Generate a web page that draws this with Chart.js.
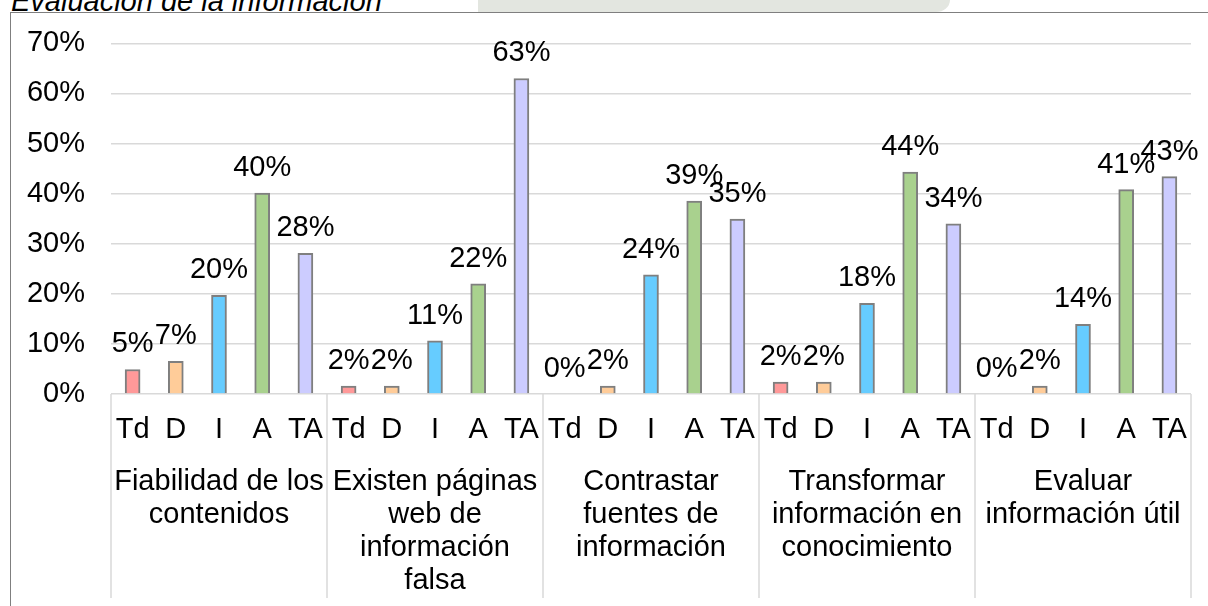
<!DOCTYPE html>
<html><head><meta charset="utf-8">
<script src="https://cdn.jsdelivr.net/npm/chart.js@4.4.0/dist/chart.umd.min.js"></script>
<style>
html,body{margin:0;padding:0;background:#fff;overflow:hidden;width:1208px;height:606px;}
#title{position:absolute;left:11px;top:-13px;font:italic 29px "Liberation Sans",Arial,sans-serif;line-height:29px;color:#000;white-space:nowrap;}
#wm{position:absolute;left:478px;top:0;width:472px;height:12px;background:#e3e6e0;border-bottom-right-radius:14px 12px;}
#frame{position:absolute;left:10px;top:12px;width:1400px;height:800px;border-left:1px solid #7f7f7f;border-top:1px solid #7f7f7f;}
#wrap{position:absolute;left:0;top:0;width:1208px;height:606px;}
</style></head><body>
<div id="wm"></div>
<div id="frame"></div>
<div id="title">Evaluación de la información</div>
<div id="wrap"><canvas id="c"></canvas></div>
<script>
const levels = ['Td', 'D', 'I', 'A', 'TA'];
const groupNames = [
  ['Fiabilidad de los', 'contenidos'],
  ['Existen páginas', 'web de', 'información', 'falsa'],
  ['Contrastar', 'fuentes de', 'información'],
  ['Transformar', 'información en', 'conocimiento'],
  ['Evaluar', 'información útil']
];
const fiabilidad   = [4.9, 6.5, 19.7, 40.1, 28.1];
const paginasFalsa = [1.6, 1.6, 10.6, 22.0, 63.0];
const contrastar   = [0.0, 1.6, 23.8, 38.5, 34.9];
const transformar  = [2.4, 2.4, 18.1, 44.3, 34.0];
const evaluar      = [0.0, 1.6, 13.9, 40.8, 43.4];
const yTicks = [0, 10, 20, 30, 40, 50, 60, 70];

const levelColors = ['#ff9999', '#ffcc99', '#66ccff', '#a9d18e', '#ccccff'];
const seriesList = [fiabilidad, paginasFalsa, contrastar, transformar, evaluar];
const labels = [], values = [], colors = [];
seriesList.forEach(s => s.forEach((v, i) => { labels.push(levels[i]); values.push(v); colors.push(levelColors[i]); }));

const FONT = '"Liberation Sans", Arial, sans-serif';

const valueLabels = {
  id: 'valueLabels',
  afterDatasetsDraw(chart) {
    const ctx = chart.ctx;
    const meta = chart.getDatasetMeta(0);
    ctx.save();
    ctx.font = '29px ' + FONT;
    ctx.fillStyle = '#000';
    ctx.textAlign = 'center';
    ctx.textBaseline = 'alphabetic';
    meta.data.forEach((bar, i) => {
      const v = chart.data.datasets[0].data[i];
      ctx.fillText(Math.round(v) + '%', bar.x, bar.y - 17);
    });
    ctx.restore();
  }
};

const separators = {
  id: 'separators',
  afterDraw(chart) {
    const x = chart.scales.x, x2 = chart.scales.x2;
    const ctx = chart.ctx;
    ctx.save();
    ctx.strokeStyle = '#d9d9d9';
    ctx.lineWidth = 1.5;
    const n = labels.length;
    for (let g = 0; g <= groupNames.length; g++) {
      const k = g * levels.length;
      let px;
      if (k === 0) px = chart.chartArea.left;
      else if (k >= n) px = chart.chartArea.right;
      else px = (x.getPixelForTick(k - 1) + x.getPixelForTick(k)) / 2;
      ctx.beginPath();
      ctx.moveTo(px, chart.chartArea.bottom);
      ctx.lineTo(px, x2.bottom - 8);
      ctx.stroke();
    }
    ctx.restore();
  }
};

new Chart(document.getElementById('c'), {
  type: 'bar',
  data: {
    labels: labels,
    datasets: [{
      data: values,
      backgroundColor: colors,
      borderColor: '#7f7f7f',
      borderWidth: 2,
      barThickness: 15,
      xAxisID: 'x'
    }]
  },
  options: {
    responsive: true,
    maintainAspectRatio: false,
    animation: false,
    devicePixelRatio: 1,
    layout: { padding: { top: 41, right: 17, bottom: 0, left: 0 } },
    plugins: { legend: { display: false }, tooltip: { enabled: false }, title: { display: false } },
    scales: {
      y: {
        min: 0, max: 70,
        afterBuildTicks(scale) { scale.ticks = yTicks.map(v => ({ value: v })); },
        afterFit(scale) { scale.width = 111; },
        ticks: { callback: v => v + '%', color: '#000', font: { size: 29, family: FONT }, padding: 26 },
        grid: { color: '#d9d9d9', lineWidth: 1.5, drawTicks: false },
        border: { display: false }
      },
      x: {
        position: 'bottom',
        afterFit(scale) { scale.height = 52; },
        ticks: { color: '#000', font: { size: 29, family: FONT }, padding: 11, maxRotation: 0, autoSkip: false },
        grid: { display: false },
        border: { display: false }
      },
      x2: {
        type: 'category',
        position: 'bottom',
        labels: groupNames,
        afterFit(scale) { scale.height = 160; },
        ticks: { color: '#000', font: { size: 29, family: FONT, lineHeight: 1.14 }, padding: 11, maxRotation: 0, autoSkip: false },
        grid: { display: false },
        border: { display: false }
      }
    }
  },
  plugins: [valueLabels, separators]
});
</script>
</body></html>
